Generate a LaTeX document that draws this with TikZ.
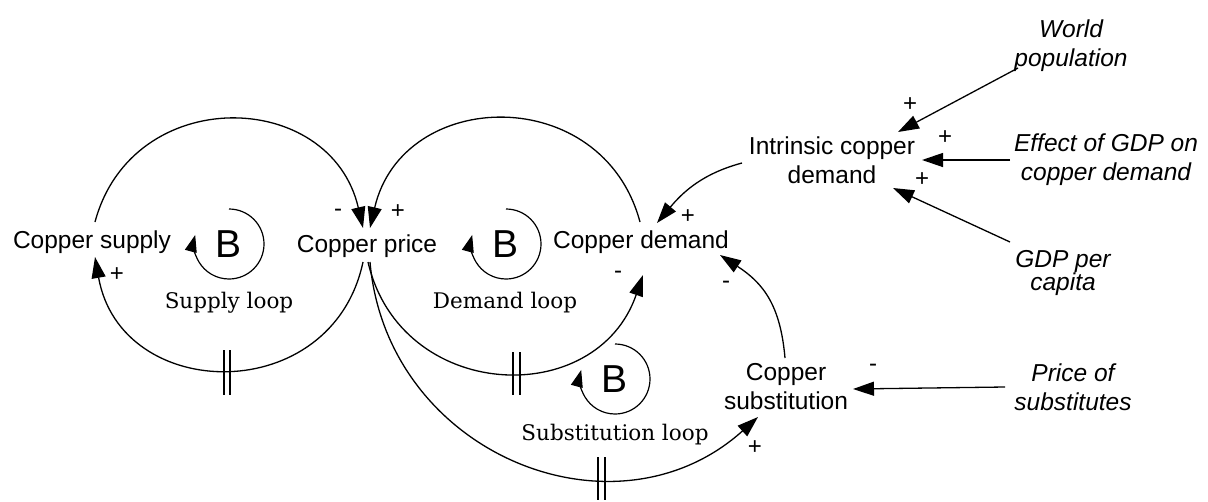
\documentclass[tikz,border=0pt]{standalone}
\usepackage{fontspec}
\setsansfont{Liberation Sans}
\newfontfamily\loopfont{DejaVu Serif}
\usetikzlibrary{arrows.meta}
\begin{document}
\begin{tikzpicture}[x=1pt,y=1pt,
  var/.style={font=\sffamily\fontsize{24.5}{29}\selectfont, inner sep=0pt, align=center},
  ext/.style={font=\sffamily\itshape\fontsize{24.5}{29}\selectfont, inner sep=0pt, align=center},
  looplabel/.style={font=\loopfont\fontsize{21.5}{26}\selectfont, inner sep=0pt},
  bmark/.style={font=\sffamily\fontsize{39}{39}\selectfont, inner sep=0pt},
  sign/.style={font=\sffamily\fontsize{24}{24}\selectfont, inner sep=0pt},
  link/.style={line width=1.3pt, -{Triangle[length=21pt,width=14pt]}},
  looparrow/.style={line width=1.2pt, -{Triangle[length=17pt,width=12pt]}},
  delaybar/.style={line width=1.2pt}]
\useasboundingbox (0,0) rectangle (1208,-501);

% variables
\node[var] (supply) at (92,-242) {Copper supply};
\node[var] (price) at (367,-246) {Copper price};
\node[var] (demand) at (641,-242) {Copper demand};
\node[var] (intr) at (832,-160) {Intrinsic copper\\demand};
\node[ext] (world) at (1071,-46) {World\\population};
\node[ext] (effect) at (1106,-160) {Effect of GDP on\\copper demand};
\node[ext, font=\sffamily\itshape\fontsize{24.5}{21}\selectfont] (gdp) at (1063,-273) {GDP per\\capita};
\node[var] (subst) at (786,-387) {Copper\\substitution};
\node[ext] (psub) at (1073,-387) {Price of\\substitutes};

% loop labels
\node[looplabel] (lsup) at (229,-303) {Supply loop};
\node[looplabel] (ldem) at (505,-303) {Demand loop};
\node[looplabel] (lsub) at (615,-435) {Substitution loop};

% loop markers
\node[bmark] (bS) at (229,-244) {B};
\node[bmark] (bD) at (506,-244) {B};
\node[bmark] (bU) at (615,-379) {B};
\draw[looparrow] ([shift={(0,35)}]bS.center) arc[start angle=90,end angle=-195,radius=35];
\draw[looparrow] ([shift={(0,35)}]bD.center) arc[start angle=90,end angle=-195,radius=35];
\draw[looparrow] ([shift={(0,35)}]bU.center) arc[start angle=90,end angle=-195,radius=35];

% loop connectors
\draw[link] ([shift={(3,20)}]supply.center) to[out=75,in=103,looseness=1.37] ([shift={(-4,18)}]price.center);
\draw[link] ([shift={(-4,-16)}]price.center) to[out=-102,in=-80,looseness=1.42] ([shift={(3,-15)}]supply.center);
\draw[link] ([shift={(-1,20)}]demand.center) to[out=105,in=77,looseness=1.37] ([shift={(3,18)}]price.center);
\draw[link] ([shift={(1,-16)}]price.center) to[out=-77,in=-109,looseness=1.335] ([shift={(2,-33)}]demand.center);
\draw[link] ([shift={(3,-16)}]price.center) to[out=-85,in=-138,looseness=1.18] ([shift={(-28,-30)}]subst.center);
\draw[link] ([shift={(-1,29)}]subst.center) to[out=95,in=-33,looseness=1.1] ([shift={(79,-13)}]demand.center);
\draw[link] ([shift={(-90,-3)}]intr.center) to[out=195,in=50] ([shift={(16,19)}]demand.center);

% external inputs
\draw[link] ([shift={(-53,-22)}]world.center) -- ([shift={(66,28)}]intr.center);
\draw[link] ([shift={(-96,0)}]effect.center) -- ([shift={(90,0)}]intr.center);
\draw[link] ([shift={(-53,31)}]gdp.center) -- ([shift={(61,-28)}]intr.center);
\draw[link] ([shift={(-68,0)}]psub.center) -- ([shift={(67,-2)}]subst.center);

% delay marks
\draw[delaybar] (224,-350) -- (224,-395);
\draw[delaybar] (230,-350) -- (230,-395);
\draw[delaybar] (513,-352) -- (513,-395);
\draw[delaybar] (520,-352) -- (520,-395);
\draw[delaybar] (598,-457) -- (598,-500);
\draw[delaybar] (605,-457) -- (605,-500);

% polarity signs
\node[sign] (s1) at (338,-213) {-};
\node[sign] (s2) at (398,-212) {+};
\node[sign] (s3) at (117,-275) {+};
\node[sign] (s4) at (618,-275) {-};
\node[sign] (s5) at (688,-217) {+};
\node[sign] (s6) at (726,-285) {-};
\node[sign] (s7) at (755,-448) {+};
\node[sign] (s8) at (910,-105) {+};
\node[sign] (s9) at (945,-138) {+};
\node[sign] (s10) at (922,-180) {+};
\node[sign] (s11) at (873,-368) {-};
\end{tikzpicture}
\end{document}
